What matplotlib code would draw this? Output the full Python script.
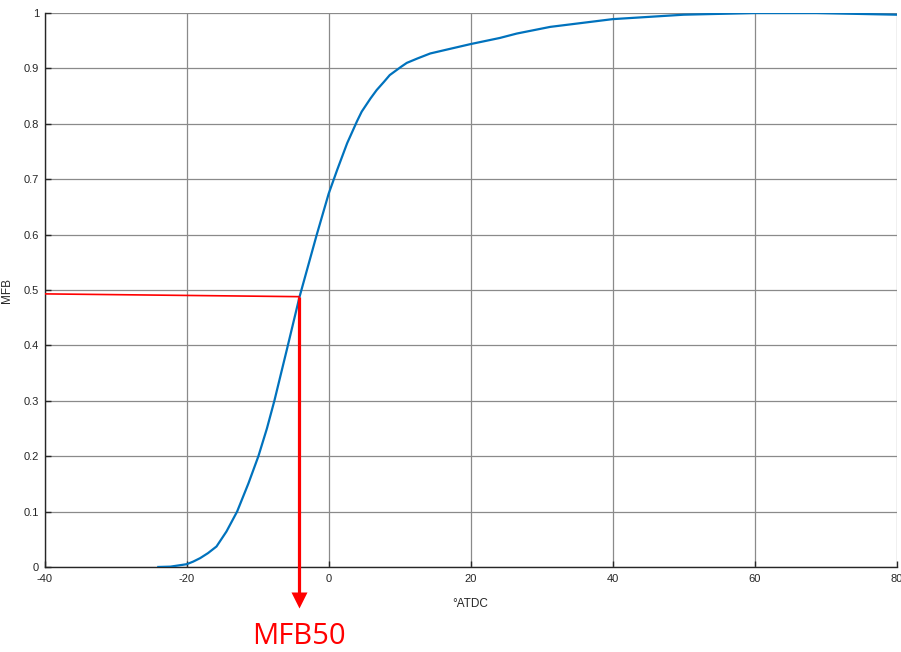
import matplotlib
matplotlib.use("Agg")
import matplotlib.pyplot as plt

# MFB curve
crank_angle = [-24.0, -22.3, -20.0, -19.1, -18.1, -17.0, -15.8, -14.4, -12.9, -11.3,
               -9.9, -8.7, -7.65, -6.7, -5.9, -4.1, -1.7, 0.0, 1.2, 2.6,
               4.0, 4.65, 5.9, 6.76, 7.8, 8.6, 10.2, 11.0, 12.5, 14.3,
               16.3, 20.0, 24.1, 26.5, 31.2, 40.0, 50.0, 60.0, 68.7, 80.0]
mfb = [0.0, 0.0006, 0.005, 0.0096, 0.016, 0.025, 0.037, 0.064, 0.10, 0.151,
       0.20, 0.25, 0.30, 0.35, 0.392, 0.488, 0.599, 0.674, 0.717, 0.765,
       0.805, 0.822, 0.846, 0.861, 0.876, 0.888, 0.903, 0.910, 0.918, 0.927,
       0.933, 0.944, 0.955, 0.963, 0.975, 0.989, 0.997, 1.0, 1.0, 0.997]

mfb50_angle = -4.2
mfb50_value = 0.488
mfb50_left = 0.493

plt.rcParams['font.family'] = ['Liberation Sans', 'DejaVu Sans']
plt.rcParams['axes.unicode_minus'] = False

fig = plt.figure(figsize=(9.01, 6.52), dpi=100)
ax = fig.add_axes([0.0496, 0.1304, 0.9456, 0.8496])

ax.plot(crank_angle, mfb, color='#0072BD', lw=1.6, zorder=3,
        solid_joinstyle='round')

# MFB50 marker lines
ax.plot([-40, mfb50_angle], [mfb50_left, mfb50_value], color='#FF0000', lw=1.2, zorder=4)
ax.plot([mfb50_angle, mfb50_angle], [mfb50_value, -0.05], color='#FF0000', lw=2.3,
        zorder=4, clip_on=False, solid_capstyle='butt')
ax.plot(mfb50_angle, -0.0605, marker='v', ms=11, color='#FF0000', mec='none',
        clip_on=False, zorder=4)
ax.text(mfb50_angle, -0.125, 'MFB50', color='#FF0000', fontsize=21,
        family=['Open Sans', 'DejaVu Sans'], ha='center', va='center',
        transform=ax.transData)

ax.set_xlim(-40, 80)
ax.set_ylim(0, 1)
ax.set_xticks(range(-40, 81, 20))
ax.set_yticks([i / 10 for i in range(11)])
ax.set_yticklabels(['0', '0.1', '0.2', '0.3', '0.4', '0.5', '0.6', '0.7', '0.8', '0.9', '1'])

ax.grid(True, color='#8a8a8a', lw=0.9)
ax.set_axisbelow(True)
for side in ['top', 'right']:
    ax.spines[side].set_visible(False)
for side in ['left', 'bottom']:
    ax.spines[side].set_color('#262626')
    ax.spines[side].set_linewidth(1.0)
ax.tick_params(direction='in', length=4, width=1.0, color='#262626',
               labelsize=8, labelcolor='#262626')
ax.tick_params(axis='x', pad=5)
ax.tick_params(axis='y', pad=4)

ax.set_xlabel('°ATDC', fontsize=8.5, color='#262626', labelpad=10)
ax.set_ylabel('MFB', fontsize=8.5, color='#262626', labelpad=8)

fig.savefig('out.png', dpi=100)
